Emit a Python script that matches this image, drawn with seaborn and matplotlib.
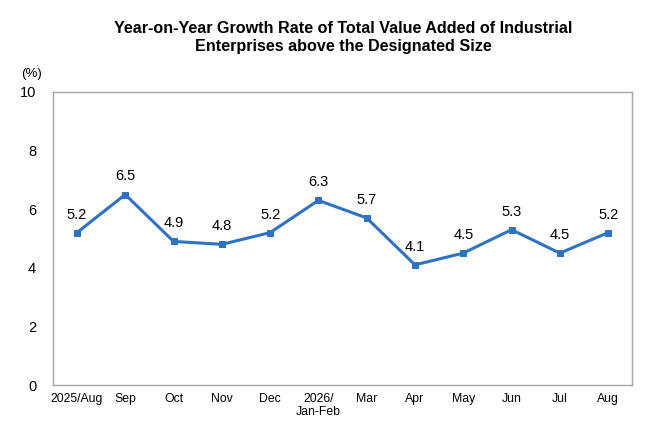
import numpy as np
import pandas as pd
import matplotlib
matplotlib.use('Agg')
import matplotlib.pyplot as plt
import seaborn as sns

# Dados do gráfico
meses = ['2025/Aug', 'Sep', 'Oct', 'Nov', 'Dec', '2026/\nJan-Feb', 'Mar', 'Apr',
         'May', 'Jun', 'Jul', 'Aug']
crescimento = [5.2, 6.5, 4.9, 4.8, 5.2, 6.3, 5.7, 4.1, 4.5, 5.3, 4.5, 5.2]

dados = pd.DataFrame({'pos': np.arange(len(meses)), 'valor': crescimento})

sns.set_style('white')
plt.rcParams['font.family'] = ['Liberation Sans', 'DejaVu Sans']
plt.rcParams['text.color'] = 'black'
plt.rcParams['xtick.labelcolor'] = 'black'
plt.rcParams['ytick.labelcolor'] = 'black'

fig = plt.figure(figsize=(6.6, 4.4), dpi=100)
ax = fig.add_axes([0.080, 0.125, 0.878, 0.666])

cor = '#2F72C4'
sns.lineplot(data=dados, x='pos', y='valor', ax=ax, color=cor, linewidth=2.2,
             marker='s', markersize=4.5, markeredgecolor=cor, markerfacecolor=cor)

for x, v in zip(dados['pos'], dados['valor']):
    ax.annotate(f'{v:.1f}', (x, v), xytext=(0, 8), textcoords='offset points',
                ha='center', va='bottom', fontsize=10.5, color='black')

ax.set_xlim(-0.5, len(meses) - 0.5)
ax.set_ylim(0, 10)
ax.set_yticks([0, 2, 4, 6, 8, 10])
ax.set_xticks(dados['pos'])
ax.set_xticklabels(meses, fontsize=8.8)
ax.set_xticks(np.arange(-0.5, len(meses)), minor=True)
ax.tick_params(axis='x', which='major', length=0, pad=6, labelcolor='black')
ax.tick_params(axis='x', which='minor', length=4, color='#A0A0A0', direction='in')
ax.tick_params(axis='y', length=4, color='#C0C0C0', direction='in', labelsize=10.5, pad=12,
               labelcolor='black')
for lab in ax.get_xticklabels():
    lab.set_linespacing(1.1)
    lab.set_verticalalignment('top')

for s in ax.spines.values():
    s.set_color('#A6A6A6')
    s.set_linewidth(1.0)

ax.set_xlabel('')
ax.set_ylabel('')
ax.grid(False)

fig.text(0.032, 0.832, '(%)', fontsize=9.5, ha='left', va='center', color='black')
fig.suptitle('Year-on-Year Growth Rate of Total Value Added of Industrial\nEnterprises above the Designated Size',
             x=0.52, y=0.952, fontsize=11.6, fontweight='bold', linespacing=1.25, color='black')

fig.savefig('out.png', dpi=100)
